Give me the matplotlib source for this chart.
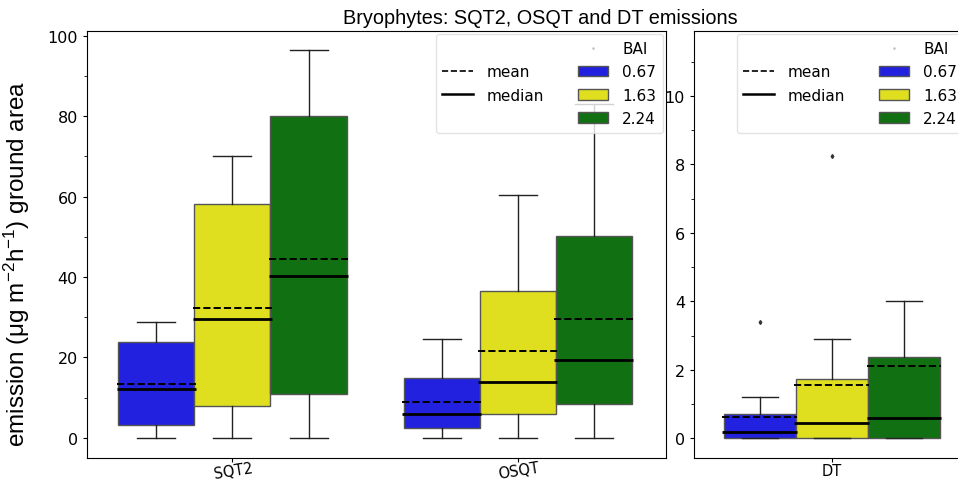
import numpy as np
import matplotlib
matplotlib.use('Agg')
from matplotlib import pyplot as plt
from matplotlib.patches import Patch
from matplotlib.lines import Line2D

# box statistics, one value per BAI level (0.67, 1.63, 2.24)
bai = ['0.67', '1.63', '2.24']
colors = ['#2121df', '#dfdf20', '#117011']

sqt2_q1 = [3.2, 8.0, 10.9]
sqt2_med = [12.2, 29.5, 40.3]
sqt2_q3 = [23.9, 58.2, 80.1]
sqt2_lo = [0, 0, 0]
sqt2_hi = [28.9, 70.1, 96.4]
sqt2_mean = [13.4, 32.3, 44.4]

osqt_q1 = [2.5, 6.0, 8.5]
osqt_med = [6.0, 13.9, 19.4]
osqt_q3 = [14.9, 36.6, 50.2]
osqt_lo = [0, 0, 0]
osqt_hi = [24.7, 60.3, 83.0]
osqt_mean = [9.0, 21.6, 29.6]

dt_q1 = [0, 0, 0]
dt_med = [0.18, 0.44, 0.59]
dt_q3 = [0.71, 1.73, 2.38]
dt_lo = [0, 0, 0]
dt_hi = [1.2, 2.9, 4.0]
dt_mean = [0.63, 1.55, 2.12]
dt_fliers = [[3.4], [8.25], []]


def stats(q1, med, q3, lo, hi, mean, fliers=None):
    out = []
    for i in range(3):
        out.append(dict(q1=q1[i], med=med[i], q3=q3[i], whislo=lo[i],
                        whishi=hi[i], mean=mean[i],
                        fliers=fliers[i] if fliers else []))
    return out


def draw(ax, groups):
    w = 0.8 / 3
    for g, st in enumerate(groups):
        pos = [g - w + i * w for i in range(3)]
        b = ax.bxp(st, positions=pos, widths=w, patch_artist=True,
                   showmeans=True, meanline=True, manage_ticks=False,
                   boxprops=dict(edgecolor='#555555', linewidth=1),
                   whiskerprops=dict(color='#222222', linewidth=1),
                   capprops=dict(color='#222222', linewidth=1),
                   medianprops=dict(color='black', linewidth=2),
                   meanprops=dict(color='black', linewidth=1.4, linestyle='--'),
                   flierprops=dict(marker='d', markersize=2, markerfacecolor='#333333',
                                   markeredgecolor='#333333'))
        for patch, c in zip(b['boxes'], colors):
            patch.set_facecolor(c)
        for m in b['medians'] + b['means']:
            x = m.get_xdata()
            m.set_xdata([x[0] - 0.005, x[1] + 0.005])


def legend(ax):
    blank = Line2D([], [], linestyle='none')
    title = Line2D([], [], marker='.', markersize=1.5, linestyle='none', color='#bbbbbb')
    handles = [blank,
               Line2D([], [], color='black', linestyle='--', linewidth=1.2),
               Line2D([], [], color='black', linewidth=1.8),
               blank, title]
    handles += [Patch(facecolor=c, edgecolor='#555555') for c in colors]
    labels = ['', 'mean', 'median', '', 'BAI'] + bai
    ax.legend(handles, labels, ncol=2, loc='upper right', fontsize=11,
              handlelength=2.0, handletextpad=0.9, columnspacing=2.2,
              borderpad=0.45, labelspacing=0.55, borderaxespad=0.2,
              framealpha=0.8, edgecolor='#dddddd')


fig = plt.figure(figsize=(9.58, 4.81), dpi=100)
ax1 = fig.add_axes([87 / 958, 22 / 481, 579 / 958, 427 / 481])
ax2 = fig.add_axes([694 / 958, 22 / 481, 273 / 958, 427 / 481])

draw(ax1, [stats(sqt2_q1, sqt2_med, sqt2_q3, sqt2_lo, sqt2_hi, sqt2_mean),
           stats(osqt_q1, osqt_med, osqt_q3, osqt_lo, osqt_hi, osqt_mean)])
draw(ax2, [stats(dt_q1, dt_med, dt_q3, dt_lo, dt_hi, dt_mean, dt_fliers)])

ax1.set_xlim(-0.51, 1.52)
ax1.set_ylim(-5, 101.2)
ax1.set_xticks([0, 1])
ax1.set_xticklabels(['SQT2', 'OSQT'], rotation=9, rotation_mode='anchor',
                    ha='center', va='top')
ax1.set_yticks(np.arange(0, 101, 20))
ax1.set_yticks(np.arange(10, 100, 20), minor=True)

ax2.set_xlim(-0.51, 0.5)
ax2.set_ylim(-0.58, 11.9)
ax2.set_xticks([0])
ax2.set_xticklabels(['DT'])
ax2.set_yticks(np.arange(0, 11, 2))
ax2.set_yticks(np.arange(1, 12, 2), minor=True)

for ax in (ax1, ax2):
    ax.tick_params(axis='y', labelsize=11.5, length=3)
    ax.tick_params(axis='x', labelsize=10.5, length=3, pad=0.8)
    ax.tick_params(which='minor', length=2)
    legend(ax)

ax1.set_ylabel('emission (\u03bcg $\\mathregular{m^{-2}h^{-1}}$) ground area', fontsize=17.5,
               family='Liberation Sans')
ax1.yaxis.set_label_coords(-0.095, 0.458)
fig.text(540 / 958, 1 - 9 / 481, 'Bryophytes: SQT2, OSQT and DT emissions', ha='center',
         va='top', fontsize=14.3, family='Liberation Sans')

fig.savefig('out.png', dpi=100)
